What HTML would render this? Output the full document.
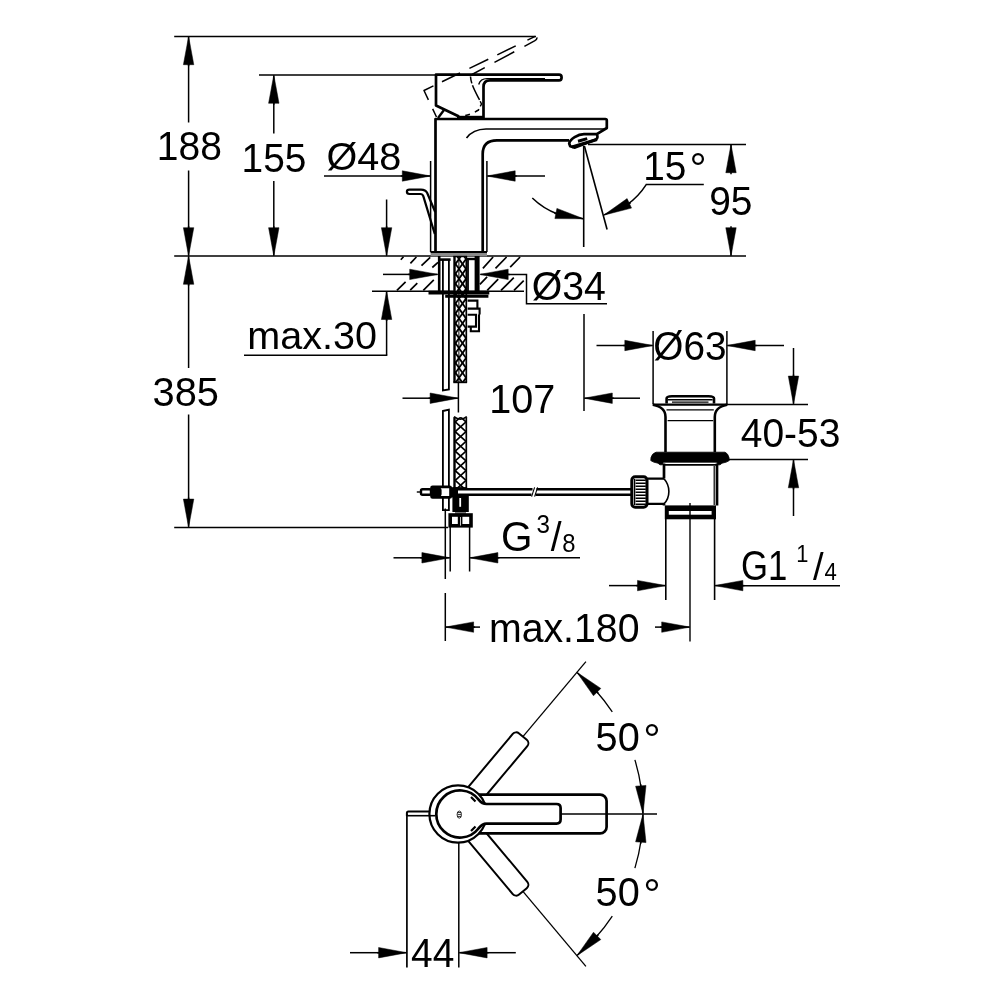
<!DOCTYPE html>
<html lang="en">
<head>
<meta charset="utf-8">
<title>Technical drawing</title>
<style>
html,body{margin:0;padding:0;background:#fff;}
body{width:1000px;height:1000px;overflow:hidden;}
svg{display:block;will-change:transform;transform:translateZ(0);}
svg text{font-family:"Liberation Sans",sans-serif;}
</style>
</head>
<body>
<svg width="1000" height="1000" viewBox="0 0 1000 1000">
<rect x="0" y="0" width="1000" height="1000" fill="#fff"/>
<g id="dims" stroke="#000" fill="none">
<line x1="174.2" y1="36.4" x2="536.0" y2="36.4" stroke-width="1.5" />
<line x1="259.0" y1="75.0" x2="436.0" y2="75.0" stroke-width="1.5" />
<line x1="174.2" y1="256.0" x2="746.0" y2="256.0" stroke-width="1.5" />
<line x1="174.2" y1="527.4" x2="448.0" y2="527.4" stroke-width="1.5" />
<polygon points="188.6,36.4 193.8,64.7 183.4,64.7" fill="#000" stroke="#000" stroke-width="0.5"/>
<line x1="188.6" y1="37.0" x2="188.6" y2="66.2" stroke-width="1.5"/>
<line x1="188.6" y1="60.0" x2="188.6" y2="122.5" stroke-width="1.5" />
<line x1="188.6" y1="170.5" x2="188.6" y2="230.0" stroke-width="1.5" />
<polygon points="188.6,256.0 183.4,227.7 193.8,227.7" fill="#000" stroke="#000" stroke-width="0.5"/>
<line x1="188.6" y1="255.4" x2="188.6" y2="226.2" stroke-width="1.5"/>
<polygon points="188.6,256.0 193.8,284.3 183.4,284.3" fill="#000" stroke="#000" stroke-width="0.5"/>
<line x1="188.6" y1="256.6" x2="188.6" y2="285.8" stroke-width="1.5"/>
<line x1="188.6" y1="280.0" x2="188.6" y2="368.0" stroke-width="1.5" />
<line x1="188.6" y1="414.5" x2="188.6" y2="500.0" stroke-width="1.5" />
<polygon points="188.6,527.4 183.4,499.1 193.8,499.1" fill="#000" stroke="#000" stroke-width="0.5"/>
<line x1="188.6" y1="526.8" x2="188.6" y2="497.6" stroke-width="1.5"/>
<polygon points="273.8,75.0 279.0,103.3 268.6,103.3" fill="#000" stroke="#000" stroke-width="0.5"/>
<line x1="273.8" y1="75.6" x2="273.8" y2="104.8" stroke-width="1.5"/>
<line x1="273.8" y1="100.0" x2="273.8" y2="133.5" stroke-width="1.5" />
<line x1="273.8" y1="181.0" x2="273.8" y2="230.0" stroke-width="1.5" />
<polygon points="273.8,256.0 268.6,227.7 279.0,227.7" fill="#000" stroke="#000" stroke-width="0.5"/>
<line x1="273.8" y1="255.4" x2="273.8" y2="226.2" stroke-width="1.5"/>
<line x1="386.6" y1="199.5" x2="386.6" y2="230.0" stroke-width="1.5" />
<polygon points="386.6,256.0 381.4,227.7 391.8,227.7" fill="#000" stroke="#000" stroke-width="0.5"/>
<line x1="386.6" y1="255.4" x2="386.6" y2="226.2" stroke-width="1.5"/>
<line x1="372.0" y1="291.2" x2="524.0" y2="291.2" stroke-width="1.5" />
<polygon points="386.6,291.2 391.8,319.5 381.4,319.5" fill="#000" stroke="#000" stroke-width="0.5"/>
<line x1="386.6" y1="291.8" x2="386.6" y2="321.0" stroke-width="1.5"/>
<line x1="386.6" y1="318.0" x2="386.6" y2="355.3" stroke-width="1.5" />
<line x1="244.0" y1="355.3" x2="387.3" y2="355.3" stroke-width="1.5" />
<line x1="324.0" y1="176.0" x2="404.0" y2="176.0" stroke-width="1.5" />
<polygon points="430.6,176.0 402.3,181.2 402.3,170.8" fill="#000" stroke="#000" stroke-width="0.5"/>
<line x1="430.0" y1="176.0" x2="400.8" y2="176.0" stroke-width="1.5"/>
<polygon points="486.9,176.0 515.2,170.8 515.2,181.2" fill="#000" stroke="#000" stroke-width="0.5"/>
<line x1="487.5" y1="176.0" x2="516.7" y2="176.0" stroke-width="1.5"/>
<line x1="514.0" y1="176.0" x2="545.0" y2="176.0" stroke-width="1.5" />
<line x1="430.6" y1="161.0" x2="430.6" y2="252.0" stroke-width="1.5" />
<line x1="486.9" y1="161.0" x2="486.9" y2="252.0" stroke-width="1.5" />
<line x1="383.0" y1="274.4" x2="412.0" y2="274.4" stroke-width="1.5" />
<polygon points="438.0,274.4 409.7,279.6 409.7,269.2" fill="#000" stroke="#000" stroke-width="0.5"/>
<line x1="437.4" y1="274.4" x2="408.2" y2="274.4" stroke-width="1.5"/>
<polygon points="479.9,274.4 508.2,269.2 508.2,279.6" fill="#000" stroke="#000" stroke-width="0.5"/>
<line x1="480.5" y1="274.4" x2="509.7" y2="274.4" stroke-width="1.5"/>
<path d="M506,274.4 H526.5 V303.7 H607" stroke-width="1.5" fill="none" />
<line x1="402.5" y1="398.2" x2="432.0" y2="398.2" stroke-width="1.5" />
<polygon points="458.4,398.2 430.1,403.4 430.1,393.0" fill="#000" stroke="#000" stroke-width="0.5"/>
<line x1="457.8" y1="398.2" x2="428.6" y2="398.2" stroke-width="1.5"/>
<line x1="458.4" y1="382.0" x2="458.4" y2="412.5" stroke-width="1.5" />
<line x1="584.0" y1="314.0" x2="584.0" y2="411.0" stroke-width="1.5" />
<polygon points="584.0,398.2 612.3,393.0 612.3,403.4" fill="#000" stroke="#000" stroke-width="0.5"/>
<line x1="584.6" y1="398.2" x2="613.8" y2="398.2" stroke-width="1.5"/>
<line x1="611.0" y1="398.2" x2="640.0" y2="398.2" stroke-width="1.5" />
<line x1="445.3" y1="508.5" x2="445.3" y2="579.0" stroke-width="1.5" />
<line x1="445.3" y1="593.0" x2="445.3" y2="641.0" stroke-width="1.5" />
<line x1="450.2" y1="527.0" x2="450.2" y2="571.5" stroke-width="1.5" />
<line x1="469.6" y1="527.0" x2="469.6" y2="571.5" stroke-width="1.5" />
<line x1="393.5" y1="557.8" x2="424.0" y2="557.8" stroke-width="1.5" />
<polygon points="450.2,557.8 421.9,563.0 421.9,552.6" fill="#000" stroke="#000" stroke-width="0.5"/>
<line x1="449.6" y1="557.8" x2="420.4" y2="557.8" stroke-width="1.5"/>
<polygon points="469.6,557.8 497.9,552.6 497.9,563.0" fill="#000" stroke="#000" stroke-width="0.5"/>
<line x1="470.2" y1="557.8" x2="499.4" y2="557.8" stroke-width="1.5"/>
<line x1="497.0" y1="557.8" x2="580.0" y2="557.8" stroke-width="1.5" />
<polygon points="445.3,627.1 473.6,621.9 473.6,632.3" fill="#000" stroke="#000" stroke-width="0.5"/>
<line x1="445.9" y1="627.1" x2="475.1" y2="627.1" stroke-width="1.5"/>
<line x1="472.0" y1="627.1" x2="480.0" y2="627.1" stroke-width="1.5" />
<line x1="655.0" y1="627.1" x2="664.0" y2="627.1" stroke-width="1.5" />
<polygon points="690.0,627.1 661.7,632.3 661.7,621.9" fill="#000" stroke="#000" stroke-width="0.5"/>
<line x1="689.4" y1="627.1" x2="660.2" y2="627.1" stroke-width="1.5"/>
<line x1="609.0" y1="585.6" x2="639.0" y2="585.6" stroke-width="1.5" />
<polygon points="665.8,585.6 637.5,590.8 637.5,580.4" fill="#000" stroke="#000" stroke-width="0.5"/>
<line x1="665.2" y1="585.6" x2="636.0" y2="585.6" stroke-width="1.5"/>
<polygon points="714.6,585.6 742.9,580.4 742.9,590.8" fill="#000" stroke="#000" stroke-width="0.5"/>
<line x1="715.2" y1="585.6" x2="744.4" y2="585.6" stroke-width="1.5"/>
<line x1="742.0" y1="585.8" x2="840.0" y2="585.8" stroke-width="1.5" />
<line x1="653.1" y1="331.0" x2="653.1" y2="404.0" stroke-width="1.5" />
<line x1="726.9" y1="331.0" x2="726.9" y2="404.0" stroke-width="1.5" />
<line x1="596.5" y1="345.5" x2="626.0" y2="345.5" stroke-width="1.5" />
<polygon points="653.1,345.5 624.8,350.7 624.8,340.3" fill="#000" stroke="#000" stroke-width="0.5"/>
<line x1="652.5" y1="345.5" x2="623.3" y2="345.5" stroke-width="1.5"/>
<polygon points="726.9,345.5 755.2,340.3 755.2,350.7" fill="#000" stroke="#000" stroke-width="0.5"/>
<line x1="727.5" y1="345.5" x2="756.7" y2="345.5" stroke-width="1.5"/>
<line x1="754.0" y1="345.5" x2="784.0" y2="345.5" stroke-width="1.5" />
<line x1="727.0" y1="404.4" x2="808.0" y2="404.4" stroke-width="1.5" />
<line x1="729.0" y1="459.5" x2="808.0" y2="459.5" stroke-width="1.5" />
<line x1="793.5" y1="348.0" x2="793.5" y2="378.0" stroke-width="1.5" />
<polygon points="793.5,404.4 788.3,376.1 798.7,376.1" fill="#000" stroke="#000" stroke-width="0.5"/>
<line x1="793.5" y1="403.8" x2="793.5" y2="374.6" stroke-width="1.5"/>
<polygon points="793.5,459.5 798.7,487.8 788.3,487.8" fill="#000" stroke="#000" stroke-width="0.5"/>
<line x1="793.5" y1="460.1" x2="793.5" y2="489.3" stroke-width="1.5"/>
<line x1="793.5" y1="486.0" x2="793.5" y2="516.0" stroke-width="1.5" />
<line x1="588.0" y1="144.4" x2="746.0" y2="144.4" stroke-width="1.5" />
<polygon points="731.0,144.4 736.2,172.7 725.8,172.7" fill="#000" stroke="#000" stroke-width="0.5"/>
<line x1="731.0" y1="145.0" x2="731.0" y2="174.2" stroke-width="1.5"/>
<polygon points="731.0,256.0 725.8,227.7 736.2,227.7" fill="#000" stroke="#000" stroke-width="0.5"/>
<line x1="731.0" y1="255.4" x2="731.0" y2="226.2" stroke-width="1.5"/>
<line x1="583.7" y1="146.0" x2="583.7" y2="247.0" stroke-width="1.6" />
<line x1="584.4" y1="146.0" x2="607.1" y2="229.5" stroke-width="1.6" />
<path d="M703.8,184.6 H646.2 A73.5,73.5 0 0 1 627.5,204.4" stroke-width="1.5" fill="none" />
<polygon points="603.6,215.2 627.1,198.6 631.5,208.1" fill="#000" stroke="#000" stroke-width="0.5"/>
<line x1="604.1" y1="214.9" x2="630.7" y2="202.7" stroke-width="1.5"/>
<path d="M532.3,198 A73.5,73.5 0 0 0 557.5,214" stroke-width="1.5" fill="none" />
<polygon points="583.7,218.8 554.9,218.6 556.9,208.4" fill="#000" stroke="#000" stroke-width="0.5"/>
<line x1="583.1" y1="218.7" x2="554.4" y2="213.2" stroke-width="1.5"/>
</g>
<g id="labels" fill="#000" stroke="none">
<text transform="translate(156.77,160.40) scale(0.9758,1)" font-size="40.00">188</text>
<text transform="translate(241.59,171.79) scale(0.9539,1)" font-size="40.72">155</text>
<text transform="translate(326.42,170.41) scale(1.0104,1)" font-size="39.15">Ø48</text>
<text transform="translate(247.28,348.91) scale(1.0072,1)" font-size="39.29">max.30</text>
<text transform="translate(152.51,406.10) scale(0.9953,1)" font-size="40.00">385</text>
<text transform="translate(531.73,300.20) scale(0.9774,1)" font-size="40.14">Ø34</text>
<text transform="translate(489.23,412.60) scale(0.9783,1)" font-size="40.42">107</text>
<text transform="translate(653.25,360.10) scale(0.9662,1)" font-size="40.14">Ø63</text>
<text transform="translate(740.72,446.60) scale(0.9664,1)" font-size="40.35">40-53</text>
<text transform="translate(709.15,215.20) scale(0.9697,1)" font-size="40.14">95</text>
<text transform="translate(643.29,180.40) scale(0.9595,1)" font-size="40.43">15</text>
<text transform="translate(689.43,183.06) scale(1.0079,1)" font-size="42.52">°</text>
<text transform="translate(501.08,551.48) scale(0.9542,1)" font-size="42.40">G</text>
<text transform="translate(536.39,532.54) scale(0.9360,1)" font-size="25.87">3</text>
<text transform="translate(550.80,551.49) scale(0.9599,1)" font-size="40.54">/</text>
<text transform="translate(562.29,551.65) scale(0.9579,1)" font-size="24.88">8</text>
<text transform="translate(741.06,580.48) scale(0.8275,1)" font-size="41.98">G1</text>
<text transform="translate(796.21,561.50) scale(0.9000,1)" font-size="24.29">1</text>
<text transform="translate(813.00,580.31) scale(0.9765,1)" font-size="39.12">/</text>
<text transform="translate(824.60,580.20) scale(0.9241,1)" font-size="24.00">4</text>
<text transform="translate(488.95,642.00) scale(0.9784,1)" font-size="40.14">max.180</text>
<text transform="translate(595.61,751.20) scale(0.9823,1)" font-size="40.42">50</text>
<text transform="translate(643.19,754.16) scale(1.0076,1)" font-size="43.24">°</text>
<text transform="translate(595.61,906.10) scale(0.9823,1)" font-size="40.42">50</text>
<text transform="translate(643.19,909.06) scale(1.0076,1)" font-size="43.24">°</text>
<text transform="translate(411.12,966.75) scale(0.9758,1)" font-size="39.93">44</text>
</g>
<g id="faucet" stroke="#000" fill="none" stroke-linejoin="round" stroke-linecap="butt">
<path d="M435.5,252 V119 H605.3 Q606.8,119 606.8,120.5 V128 L596,134.6" stroke-width="2.7" fill="none" />
<path d="M482.7,252 V154 Q482.7,140.3 497,140.3 H569" stroke-width="2.7" fill="none" />
<path d="M466.5,138 Q473,129.2 486,129 H604" stroke-width="1.7" fill="none" />
<path d="M569.2,143.5 C570,139 578,134.2 584,134.2 H596.5 C598,135.5 597.8,138 596,139.6 L575,147.6 L570.2,146.2 Z" stroke-width="2.7" fill="none" />
<path d="M578,141.2 L587.2,138.6" stroke-width="3" fill="none" />
<path d="M572,147 L597,139.5" stroke-width="3.2" fill="none" />
<path d="M459,116.5 L436,105.5 V74.6 H559 Q561.6,74.6 561.6,77.4 Q561.6,80.3 559,80.3 H490 Q483.5,80.3 483.5,87 V119" stroke-width="2.7" fill="none" />
<path d="M478.7,84.5 Q480.5,78.6 487,78.6 H545" stroke-width="1.4" fill="none" />
<path d="M438,118 L444,110" stroke-width="2.4" fill="none" />
<path d="M457,117.4 H484" stroke-width="3.2" fill="none" />
<path d="M436.5,117 L424,90.5 L535.2,36.4" stroke-width="1.5" fill="none" stroke-dasharray="9 10 20.8 9.5 20 10.5 21 10 20.5 13 12"/>
<path d="M472,74.5 L534.5,40.9 Q538.8,38.4 535.2,36.4" stroke-width="1.5" fill="none" stroke-dasharray="14.5 11 22.5 11.5 16"/>
<path d="M470.5,76.5 C471,86 478,96 481.5,104 L478.5,110 C472,114 466,116 459,116.5" stroke-width="1.5" fill="none" stroke-dasharray="7 2 16 1.5 6 3 5 5.5 5 20"/>
<rect x="430.6" y="252.2" width="56.4" height="4.2" fill="#8a8a8a" stroke="none"/>
<line x1="430.6" y1="252.0" x2="487.0" y2="252.0" stroke-width="1.8" />
<path d="M435.2,212 L427.2,193 Q425.6,189.6 421,189.6 H409.4 Q406.9,189.6 406.9,191.8 Q406.9,194 409.4,194 H420.3 Q422.6,194 423.3,196.2 L434.8,234" stroke-width="2.2" fill="none" />
</g>
<g id="under" stroke="#000" fill="none">
<path d="M403.5,256.7 L400.8,259.7 M416.4,257 L410.4,263.3 M430.2,257.3 L421.5,265.7 M438,262.4 L432.3,267.5 M405.6,281.9 L396.9,290.4 M417.3,283.1 L410.2,290.2 M433.8,279.8 L423.3,290.4 M493.1,257 L482.9,268.4 M506.6,257 L495.5,268.4 M520.1,257 L510.2,267.2 M487.1,276.8 L479.9,284.3 M498.2,279.2 L487.2,290.4 M513.8,277.7 L501,290.4 M523.7,280.7 L514,290.4" stroke-width="1.7" fill="none" />
<line x1="439.2" y1="256.0" x2="439.2" y2="292.0" stroke-width="2.6" />
<line x1="477.1" y1="256.0" x2="477.1" y2="292.0" stroke-width="5" />
<path d="M442.9,259 V390.4 L448.9,389.4 V259" stroke-width="1.8" fill="none" />
<line x1="440.0" y1="259.6" x2="450.6" y2="259.6" stroke-width="2.6" />
<line x1="468.0" y1="258.0" x2="468.0" y2="291.0" stroke-width="1.8" />
<line x1="466.5" y1="259.0" x2="478.0" y2="259.0" stroke-width="2.4" />
<rect x="454.5" y="256.5" width="11.8" height="125.80000000000001" fill="#fff" stroke="none"/>
<clipPath id="h1"><rect x="455" y="256.5" width="11" height="125.80000000000001"/></clipPath>
<g clip-path="url(#h1)" stroke-width="1.8">
<line x1="449" y1="225.1" x2="469" y2="253.3"/>
<line x1="449" y1="253.3" x2="469" y2="225.1"/>
<line x1="449" y1="235.0" x2="469" y2="263.2"/>
<line x1="449" y1="263.2" x2="469" y2="235.0"/>
<line x1="449" y1="244.9" x2="469" y2="273.1"/>
<line x1="449" y1="273.1" x2="469" y2="244.9"/>
<line x1="449" y1="254.8" x2="469" y2="283.0"/>
<line x1="449" y1="283.0" x2="469" y2="254.8"/>
<line x1="449" y1="264.7" x2="469" y2="292.9"/>
<line x1="449" y1="292.9" x2="469" y2="264.7"/>
<line x1="449" y1="274.6" x2="469" y2="302.8"/>
<line x1="449" y1="302.8" x2="469" y2="274.6"/>
<line x1="449" y1="284.5" x2="469" y2="312.7"/>
<line x1="449" y1="312.7" x2="469" y2="284.5"/>
<line x1="449" y1="294.4" x2="469" y2="322.6"/>
<line x1="449" y1="322.6" x2="469" y2="294.4"/>
<line x1="449" y1="304.3" x2="469" y2="332.5"/>
<line x1="449" y1="332.5" x2="469" y2="304.3"/>
<line x1="449" y1="314.2" x2="469" y2="342.4"/>
<line x1="449" y1="342.4" x2="469" y2="314.2"/>
<line x1="449" y1="324.1" x2="469" y2="352.3"/>
<line x1="449" y1="352.3" x2="469" y2="324.1"/>
<line x1="449" y1="334.0" x2="469" y2="362.2"/>
<line x1="449" y1="362.2" x2="469" y2="334.0"/>
<line x1="449" y1="343.9" x2="469" y2="372.1"/>
<line x1="449" y1="372.1" x2="469" y2="343.9"/>
<line x1="449" y1="353.8" x2="469" y2="382.0"/>
<line x1="449" y1="382.0" x2="469" y2="353.8"/>
<line x1="449" y1="363.7" x2="469" y2="391.9"/>
<line x1="449" y1="391.9" x2="469" y2="363.7"/>
<line x1="449" y1="373.6" x2="469" y2="401.8"/>
<line x1="449" y1="401.8" x2="469" y2="373.6"/>
<line x1="449" y1="383.5" x2="469" y2="411.7"/>
<line x1="449" y1="411.7" x2="469" y2="383.5"/>
</g>
<line x1="458.9" y1="256.5" x2="458.9" y2="382.3" stroke-width="1.0" />
<line x1="454.5" y1="256.5" x2="454.5" y2="382.3" stroke-width="2.4" />
<line x1="466.3" y1="256.5" x2="466.3" y2="382.3" stroke-width="1.7" />
<line x1="453.3" y1="256.5" x2="467.1" y2="256.5" stroke-width="1.4" />
<line x1="453.3" y1="382.3" x2="467.1" y2="382.3" stroke-width="1.8" />
<line x1="428.5" y1="292.6" x2="489.3" y2="292.6" stroke-width="3.8" />
<line x1="445.2" y1="296.2" x2="488.4" y2="296.2" stroke-width="3.0" />
<path d="M467.6,300.6 H477.4 V308.6 H479.6 V314.6 M467.6,308.6 H477.4 M467.6,314.8 H476 V326.6 H467.6 M479,314.6 V331.2 H470.8 V327" stroke-width="2.1" fill="none" />
<path d="M442.9,411 L448.9,409.6 V510.2 H442.9 Z" stroke-width="1.8" fill="none" />
<rect x="454.5" y="417.2" width="11.8" height="70.80000000000001" fill="#fff" stroke="none"/>
<clipPath id="h2"><rect x="455" y="417.2" width="11" height="70.80000000000001"/></clipPath>
<g clip-path="url(#h2)" stroke-width="1.7">
<line x1="455.2" y1="392.7" x2="466" y2="402.4"/>
<line x1="455.2" y1="402.4" x2="466" y2="392.7"/>
<line x1="455.2" y1="402.4" x2="466" y2="412.2"/>
<line x1="455.2" y1="412.2" x2="466" y2="402.4"/>
<line x1="455.2" y1="412.2" x2="466" y2="421.9"/>
<line x1="455.2" y1="421.9" x2="466" y2="412.2"/>
<line x1="455.2" y1="421.9" x2="466" y2="431.7"/>
<line x1="455.2" y1="431.7" x2="466" y2="421.9"/>
<line x1="455.2" y1="431.7" x2="466" y2="441.4"/>
<line x1="455.2" y1="441.4" x2="466" y2="431.7"/>
<line x1="455.2" y1="441.4" x2="466" y2="451.2"/>
<line x1="455.2" y1="451.2" x2="466" y2="441.4"/>
<line x1="455.2" y1="451.2" x2="466" y2="460.9"/>
<line x1="455.2" y1="460.9" x2="466" y2="451.2"/>
<line x1="455.2" y1="460.9" x2="466" y2="470.7"/>
<line x1="455.2" y1="470.7" x2="466" y2="460.9"/>
<line x1="455.2" y1="470.7" x2="466" y2="480.4"/>
<line x1="455.2" y1="480.4" x2="466" y2="470.7"/>
<line x1="455.2" y1="480.4" x2="466" y2="490.2"/>
<line x1="455.2" y1="490.2" x2="466" y2="480.4"/>
<line x1="455.2" y1="490.2" x2="466" y2="499.9"/>
<line x1="455.2" y1="499.9" x2="466" y2="490.2"/>
<line x1="455.2" y1="499.9" x2="466" y2="509.7"/>
<line x1="455.2" y1="509.7" x2="466" y2="499.9"/>
</g>
<line x1="454.5" y1="417.2" x2="454.5" y2="488.0" stroke-width="2.4" />
<line x1="466.3" y1="417.2" x2="466.3" y2="488.0" stroke-width="1.7" />
<line x1="453.3" y1="488.0" x2="467.1" y2="488.0" stroke-width="1.8" />
<path d="M454,416.6 Q460.3,421.5 466.8,416.6" stroke-width="1.7" fill="none" />
<path d="M457,489.2 H532.5 M457,494.8 H531.5 M536.5,489.2 H631.5 M535.5,494.8 H631.5" stroke-width="2.4" fill="none" />
<path d="M534.6,487.4 L531.6,496.6 M537.6,487.4 L534.6,496.6" stroke-width="1.1" fill="none" />
<path d="M416.8,492 H420.6" stroke-width="1.4" fill="none" />
<rect x="421" y="489.2" width="10" height="5.6" rx="1.5" fill="#fff" stroke-width="2.4"/>
<rect x="431.6" y="486.8" width="19" height="10.6" rx="1" fill="#fff" stroke-width="2.8"/>
<rect x="432" y="487.4" width="9.6" height="9.4" rx="3" fill="#000" stroke="none"/>
<rect x="450.8" y="487.2" width="7.2" height="10.2" fill="#000" stroke="none"/>
<rect x="452.4" y="495.8" width="16.4" height="16.2" fill="#000" stroke="none"/>
<line x1="460.2" y1="498.0" x2="460.2" y2="506.8" stroke-width="1.8" stroke="#fff"/>
<rect x="455" y="512" width="11" height="2" fill="#777" stroke="none"/>
<rect x="450.2" y="515" width="20.8" height="10.8" fill="#fff" stroke-width="3.6"/>
<line x1="459.6" y1="515.0" x2="459.6" y2="526.0" stroke-width="3.6" />
<line x1="461.6" y1="515.0" x2="461.6" y2="526.0" stroke-width="1.6" />
<line x1="460.5" y1="517.0" x2="460.5" y2="525.6" stroke-width="0.8" stroke="#fff"/>
</g>
<g id="drain" stroke="#000" fill="none" stroke-linejoin="round">
<path d="M666.6,403.4 V398.6 Q666.6,396.3 672,396.3 H708.5 Q714,396.3 714,398.6 V403.4" stroke-width="2.6" fill="none" />
<line x1="668.0" y1="399.8" x2="712.6" y2="399.8" stroke-width="1.4" />
<line x1="672.0" y1="402.2" x2="708.5" y2="402.2" stroke-width="1.2" />
<path d="M652.6,404.6 H727.4" stroke-width="2.4" fill="none" />
<path d="M653,404.8 C661,406.5 665.5,409.5 665.5,417 V452" stroke-width="2.6" fill="none" />
<path d="M727,404.8 C719,406.5 714.8,409.5 714.8,417 V452" stroke-width="2.6" fill="none" />
<line x1="666.5" y1="409.8" x2="713.8" y2="409.8" stroke-width="1.3" />
<line x1="667.6" y1="420.6" x2="713.2" y2="420.6" stroke-width="1.3" />
<path d="M656,452.2 H725 Q728,453.4 729,457.5 L729.2,460.6 Q727,462.4 722,463.2 L720,464.8 H717.6 L717,462.2 H663.2 L662.6,464.8 H660 L658,463.2 Q653,462.4 650.8,460.6 L651,457.5 Q652,453.4 656,452.2 Z" stroke-width="0.8" fill="#000" />
<path d="M664,463.5 V478.6 M664,504 V505.5 M717,463.5 V505.5" stroke-width="2.7" fill="none" />
<line x1="663.0" y1="464.9" x2="717.6" y2="464.9" stroke-width="1.8" />
<line x1="714.2" y1="466.0" x2="714.2" y2="505.0" stroke-width="1.2" />
<path d="M664,478.7 H647.4 M664,503.9 H647.4" stroke-width="2.2" fill="none" />
<path d="M664,478.7 C670.5,486 670.5,497 664,503.9" stroke-width="1.6" fill="none" />
<rect x="631.8" y="476.8" width="15.2" height="30.4" rx="3.4" fill="#fff" stroke-width="3"/>
<path d="M635.6,480.2 H645.8 M635.6,483.2 H645.8 M635.6,486.2 H645.8 M635.6,489.2 H645.8 M635.6,492.2 H645.8 M635.6,495.2 H645.8 M635.6,498.2 H645.8 M635.6,501.2 H645.8 M635.6,504.2 H645.8" stroke-width="1.5" fill="none" />
<line x1="634.6" y1="479.0" x2="634.6" y2="505.0" stroke-width="1.4" />
<rect x="664.8" y="505.4" width="51.2" height="13.9" fill="#000" stroke="none"/>
<rect x="668.8" y="511" width="42.8" height="3.7" fill="#fff" stroke="none"/>
<line x1="665.8" y1="519.0" x2="665.8" y2="600.0" stroke-width="1.6" />
<line x1="714.6" y1="519.0" x2="714.6" y2="600.0" stroke-width="1.6" />
<line x1="690.0" y1="503.0" x2="690.0" y2="641.6" stroke-width="1.4" />
</g>
<g id="top" stroke="#000" fill="none" stroke-linejoin="round">
<g transform="rotate(-50 458.0 814.0)">
<rect x="468.0" y="804.5" width="91" height="19" rx="4.5" fill="#fff" stroke-width="2"/>
<line x1="559.0" y1="814.0" x2="657.0" y2="814.0" stroke-width="1.3" />
</g>
<g transform="rotate(50 458.0 814.0)">
<rect x="468.0" y="804.5" width="91" height="19" rx="4.5" fill="#fff" stroke-width="2"/>
<line x1="559.0" y1="814.0" x2="657.0" y2="814.0" stroke-width="1.3" />
</g>
<rect x="458.0" y="794.6" width="148.6" height="38.8" rx="6.5" fill="#fff" stroke-width="2.7"/>
<circle cx="458.0" cy="814.0" r="28.6" fill="#fff" stroke-width="2.2"/>
<path d="M486.5,804 H556.5 Q560.6,804 560.6,808 V819.6 Q560.6,823.6 556.5,823.6 H486.5 C482,823.6 480.5,826 478.5,828.5 A23.6,23.6 0 1 1 478.5,799.5 C480.5,802 482,804 486.5,804 Z" stroke-width="2.7" fill="#fff" />
<path d="M471,797 L475.5,801.5 M471,831 L475.5,826.5" stroke-width="2.2" fill="none" />
<line x1="560.6" y1="814.0" x2="657.0" y2="814.0" stroke-width="1.3" />
<path d="M430,811.5 H408.4 Q406.9,811.5 406.9,813 V816" stroke-width="2.0" fill="none" />
<line x1="406.9" y1="815.7" x2="435.0" y2="815.7" stroke-width="1.6" />
<g stroke-width="0.8"><ellipse cx="459.3" cy="814.6" rx="2.2" ry="3.6"/><path d="M457.6,812.6 H461 M457.6,814.6 H461 M457.6,816.6 H461"/></g>
<line x1="406.9" y1="814.0" x2="406.9" y2="967.6" stroke-width="1.7" />
<line x1="458.8" y1="842.4" x2="458.8" y2="967.6" stroke-width="1.5" />
<line x1="350.0" y1="952.7" x2="380.0" y2="952.7" stroke-width="1.5" />
<polygon points="406.9,952.7 378.6,957.9 378.6,947.5" fill="#000" stroke="#000" stroke-width="0.5"/>
<line x1="406.3" y1="952.7" x2="377.1" y2="952.7" stroke-width="1.5"/>
<polygon points="458.8,952.7 487.1,947.5 487.1,957.9" fill="#000" stroke="#000" stroke-width="0.5"/>
<line x1="459.4" y1="952.7" x2="488.6" y2="952.7" stroke-width="1.5"/>
<line x1="485.0" y1="952.7" x2="515.8" y2="952.7" stroke-width="1.5" />
<path d="M595.5,690.2 A185.0,185.0 0 0 1 612.3,711.9" stroke-width="1.3" fill="none" />
<path d="M634.9,759.9 A185.0,185.0 0 0 1 641.2,788.3" stroke-width="1.3" fill="none" />
<path d="M595.5,937.8 A185.0,185.0 0 0 0 612.3,916.1" stroke-width="1.3" fill="none" />
<path d="M634.9,868.1 A185.0,185.0 0 0 0 641.2,839.7" stroke-width="1.3" fill="none" />
<polygon points="576.9,672.3 600.8,688.4 593.5,695.8" fill="#000" stroke="#000" stroke-width="0.5"/>
<line x1="577.3" y1="672.7" x2="598.2" y2="693.1" stroke-width="1.5"/>
<polygon points="643.0,814.0 635.6,786.2 646.0,785.4" fill="#000" stroke="#000" stroke-width="0.5"/>
<line x1="643.0" y1="813.4" x2="640.7" y2="784.3" stroke-width="1.5"/>
<polygon points="576.9,955.7 593.5,932.2 600.8,939.6" fill="#000" stroke="#000" stroke-width="0.5"/>
<line x1="577.3" y1="955.3" x2="598.2" y2="934.9" stroke-width="1.5"/>
<polygon points="643.0,814.0 646.0,842.6 635.6,841.8" fill="#000" stroke="#000" stroke-width="0.5"/>
<line x1="643.0" y1="814.6" x2="640.7" y2="843.7" stroke-width="1.5"/>
</g>
</svg>
</body>
</html>
